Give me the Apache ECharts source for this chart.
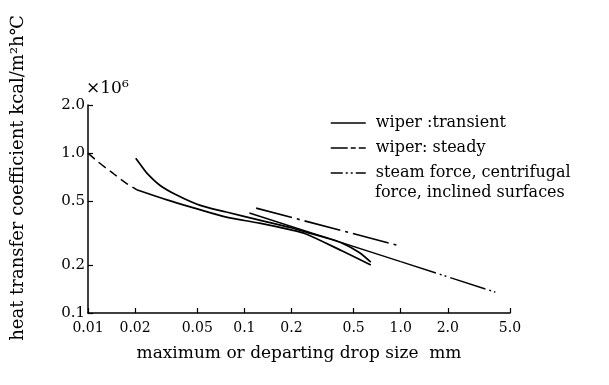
<!DOCTYPE html>
<html><head><meta charset="utf-8">
<script src="https://cdn.jsdelivr.net/npm/echarts@6/dist/echarts.min.js"></script>
<style>html,body{margin:0;padding:0;background:#fff}#c{width:609px;height:385px}</style>
</head><body><div id="c"></div>
<script>
// Tick values and labels (log-log chart)
const xTickValues = [0.01, 0.02, 0.05, 0.1, 0.2, 0.5, 1, 2, 5];
const xTickLabels = ['0.01', '0.02', '0.05', '0.1', '0.2', '0.5', '1.0', '2.0', '5.0'];
const yTickValues = [0.1, 0.2, 0.5, 1, 2];
const yTickLabels = ['0.1', '0.2', '0.5', '1.0', '2.0'];

// Series names
const nameTransient = 'wiper :transient';
const nameSteady = 'wiper: steady';
const nameSteam = 'steam force, centrifugal\nforce, inclined surfaces';

// wiper transient, curve A (starts at 0.02 high)
const transA_x = [0.0202, 0.0218, 0.0238, 0.0288, 0.0369, 0.0517, 0.0767, 0.125, 0.202, 0.26, 0.34, 0.42, 0.54, 0.644];
const transA_y = [0.93, 0.84, 0.75, 0.63, 0.547, 0.473, 0.428, 0.381, 0.34, 0.316, 0.294, 0.274, 0.24, 0.208];
// wiper transient, curve B (solid part)
const transB_x = [0.0205, 0.0324, 0.0481, 0.0767, 0.125, 0.202, 0.248, 0.42, 0.644];
const transB_y = [0.59, 0.508, 0.453, 0.398, 0.365, 0.33, 0.312, 0.245, 0.1995];
// curve B extrapolated (dashed)
const extrap_x = [0.01, 0.0116, 0.0145, 0.0176, 0.0205];
const extrap_y = [1.0, 0.882, 0.746, 0.647, 0.59];
// wiper steady
const steady_x = [0.119, 1.0];
const steady_y = [0.453, 0.262];
// steam force etc.: solid part and dash-dot-dot part
const steamSolid_x = [0.1077, 1.0];
const steamSolid_y = [0.422, 0.2094];
const steam_x = [1.0, 4.03];
const steam_y = [0.2094, 0.135];

const L = Math.log10;
const pts = (xs, ys) => xs.map((x, i) => [L(x), L(ys[i])]);
const lookup = (vals, labels) => v => {
  for (let i = 0; i < vals.length; i++) if (Math.abs(L(vals[i]) - v) < 1e-6) return labels[i];
  return '';
};

const FONT = 'DejaVu Serif';
const chart = echarts.init(document.getElementById('c'), null, {renderer: 'canvas'});

const dashDot = [37, 5, 3, 5];
const dashDotDot = [37, 4, 2, 3, 2, 4];
const hiddenSymbol = {color: 'rgba(0,0,0,0)', borderWidth: 0, opacity: 0};

chart.setOption({
  animation: false,
  backgroundColor: '#fff',
  grid: {left: 88, right: 99, top: 105, bottom: 72, outerBoundsMode: 'none'},
  xAxis: {
    type: 'value', min: L(xTickValues[0]), max: L(xTickValues[xTickValues.length - 1]),
    name: 'maximum or departing drop size  mm', nameLocation: 'middle', nameGap: 32,
    nameTextStyle: {color: '#000', fontFamily: FONT, fontSize: 17},
    axisLine: {onZero: false, lineStyle: {color: '#000', width: 1.5}},
    axisTick: {inside: true, length: 5, lineStyle: {color: '#000', width: 1.2}, customValues: xTickValues.map(L)},
    axisLabel: {customValues: xTickValues.map(L), formatter: lookup(xTickValues, xTickLabels),
      color: '#000', fontFamily: FONT, fontSize: 14, margin: 8},
    splitLine: {show: false}
  },
  yAxis: {
    type: 'value', min: L(yTickValues[0]), max: L(yTickValues[yTickValues.length - 1]),
    axisLine: {onZero: false, lineStyle: {color: '#000', width: 1.5}},
    axisTick: {inside: true, length: 5, lineStyle: {color: '#000', width: 1.2}, customValues: yTickValues.map(L)},
    axisLabel: {customValues: yTickValues.map(L), formatter: lookup(yTickValues, yTickLabels),
      color: '#000', fontFamily: FONT, fontSize: 15, margin: 3},
    splitLine: {show: false}
  },
  legend: {
    orient: 'vertical', left: 330, top: 115, padding: 0, itemWidth: 35, itemHeight: 18, itemGap: 9,
    textStyle: {color: '#000', fontFamily: FONT, fontSize: 16},
    formatter: n => ' ' + n.split('\n')[0],
    itemStyle: hiddenSymbol,
    data: [
      {name: nameTransient, itemStyle: hiddenSymbol, lineStyle: {type: 'solid', width: 1.5, color: '#000'}},
      {name: nameSteady, itemStyle: hiddenSymbol, lineStyle: {type: [17, 3, 5, 3], width: 1.5, color: '#000'}},
      {name: nameSteam, itemStyle: hiddenSymbol, lineStyle: {type: [12, 3, 2, 3, 2, 3], width: 1.5, color: '#000'}}
    ]
  },
  graphic: [
    {type: 'text', x: 18, y: 178, rotation: Math.PI / 2,
      style: {text: 'heat transfer coefficient kcal/m²h℃', font: '18px "DejaVu Serif"', fill: '#000',
        align: 'center', verticalAlign: 'middle'}},
    {type: 'text', x: 86, y: 89,
      style: {text: '×10⁶', font: '17px "DejaVu Serif"', fill: '#000', align: 'left', verticalAlign: 'middle'}},
    {type: 'text', x: 375, y: 193,
      style: {text: nameSteam.split('\n')[1], font: '16px "DejaVu Serif"', fill: '#000', align: 'left', verticalAlign: 'middle'}}
  ],
  series: [
    {name: nameTransient, type: 'line', data: pts(transA_x, transA_y), smooth: 0.3, symbol: 'none',
      lineStyle: {color: '#000', width: 1.7}, itemStyle: {color: '#000'}},
    {name: nameTransient, type: 'line', data: pts(transB_x, transB_y), smooth: 0.3, symbol: 'none',
      lineStyle: {color: '#000', width: 1.7}, itemStyle: {color: '#000'}},
    {name: 'extrapolation', type: 'line', data: pts(extrap_x, extrap_y), smooth: 0.3, symbol: 'none',
      lineStyle: {color: '#000', width: 1.5, type: [9, 5]}, itemStyle: {color: '#000'}},
    {name: nameSteady, type: 'line', data: pts(steady_x, steady_y), symbol: 'none',
      lineStyle: {color: '#000', width: 1.7, type: dashDot}, itemStyle: {color: '#000'}},
    {name: 'steam solid', type: 'line', data: pts(steamSolid_x, steamSolid_y), symbol: 'none',
      lineStyle: {color: '#000', width: 1.4}, itemStyle: {color: '#000'}},
    {name: nameSteam, type: 'line', data: pts(steam_x, steam_y), symbol: 'none',
      lineStyle: {color: '#000', width: 1.4, type: dashDotDot}, itemStyle: {color: '#000'}}
  ]
});
</script></body></html>
